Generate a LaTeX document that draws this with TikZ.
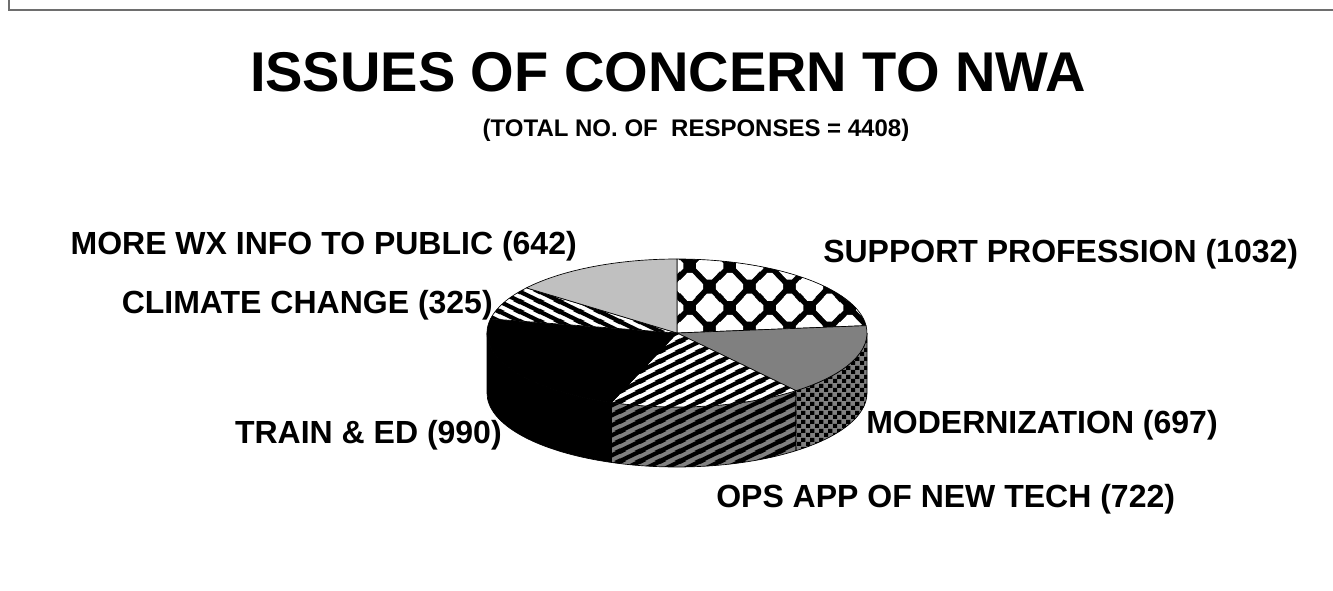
\documentclass[tikz,border=0pt]{standalone}
\usepackage{fontspec}
\setmainfont{Liberation Sans}
\usetikzlibrary{patterns}

\pgfdeclarepatternformonly{opsstripes}{\pgfqpoint{0pt}{0pt}}{\pgfqpoint{15pt}{7.5pt}}{\pgfqpoint{15pt}{7.5pt}}{%
  \pgfsetlinewidth{3.35pt}%
  \pgfpathmoveto{\pgfqpoint{-15pt}{-7.5pt}}\pgfpathlineto{\pgfqpoint{30pt}{15pt}}%
  \pgfpathmoveto{\pgfqpoint{-15pt}{0pt}}\pgfpathlineto{\pgfqpoint{15pt}{15pt}}%
  \pgfpathmoveto{\pgfqpoint{0pt}{-7.5pt}}\pgfpathlineto{\pgfqpoint{30pt}{7.5pt}}%
  \pgfusepath{stroke}}

\pgfdeclarepatternformonly{climstripes}{\pgfqpoint{0pt}{0pt}}{\pgfqpoint{15pt}{7.5pt}}{\pgfqpoint{15pt}{7.5pt}}{%
  \pgfsetlinewidth{3.35pt}%
  \pgfpathmoveto{\pgfqpoint{-15pt}{15pt}}\pgfpathlineto{\pgfqpoint{30pt}{-7.5pt}}%
  \pgfpathmoveto{\pgfqpoint{-15pt}{22.5pt}}\pgfpathlineto{\pgfqpoint{30pt}{0pt}}%
  \pgfpathmoveto{\pgfqpoint{-15pt}{7.5pt}}\pgfpathlineto{\pgfqpoint{30pt}{-15pt}}%
  \pgfusepath{stroke}}

\pgfdeclarepatternformonly{checkers}{\pgfqpoint{0pt}{0pt}}{\pgfqpoint{6.8pt}{6.8pt}}{\pgfqpoint{6.8pt}{6.8pt}}{%
  \pgfpathrectangle{\pgfqpoint{0pt}{0pt}}{\pgfqpoint{3.4pt}{3.4pt}}%
  \pgfpathrectangle{\pgfqpoint{3.4pt}{3.4pt}}{\pgfqpoint{3.4pt}{3.4pt}}%
  \pgfusepath{fill}}

% diamond-like hole (tips slightly cut) centred at (#1,#2)
\newcommand\octhole[2]{%
  \pgfpathmoveto{\pgfpointadd{\pgfpoint{#1}{#2}}{\pgfqpoint{10.125pt}{-1.934pt}}}%
  \pgfpathlineto{\pgfpointadd{\pgfpoint{#1}{#2}}{\pgfqpoint{10.125pt}{1.934pt}}}%
  \pgfpathlineto{\pgfpointadd{\pgfpoint{#1}{#2}}{\pgfqpoint{1.818pt}{10.5pt}}}%
  \pgfpathlineto{\pgfpointadd{\pgfpoint{#1}{#2}}{\pgfqpoint{-1.818pt}{10.5pt}}}%
  \pgfpathlineto{\pgfpointadd{\pgfpoint{#1}{#2}}{\pgfqpoint{-10.125pt}{1.934pt}}}%
  \pgfpathlineto{\pgfpointadd{\pgfpoint{#1}{#2}}{\pgfqpoint{-10.125pt}{-1.934pt}}}%
  \pgfpathlineto{\pgfpointadd{\pgfpoint{#1}{#2}}{\pgfqpoint{-1.818pt}{-10.5pt}}}%
  \pgfpathlineto{\pgfpointadd{\pgfpoint{#1}{#2}}{\pgfqpoint{1.818pt}{-10.5pt}}}%
  \pgfpathclose}

\pgfdeclarepatternformonly{diamondholes}{\pgfqpoint{0pt}{0pt}}{\pgfqpoint{30pt}{31.5pt}}{\pgfqpoint{30pt}{31.5pt}}{%
  \octhole{-22.5pt}{-23.625pt}\octhole{7.5pt}{-23.625pt}\octhole{37.5pt}{-23.625pt}%
  \octhole{-22.5pt}{7.875pt}\octhole{7.5pt}{7.875pt}\octhole{37.5pt}{7.875pt}%
  \octhole{-22.5pt}{39.375pt}\octhole{7.5pt}{39.375pt}\octhole{37.5pt}{39.375pt}%
  \octhole{-7.5pt}{-7.875pt}\octhole{22.5pt}{-7.875pt}\octhole{52.5pt}{-7.875pt}%
  \octhole{-7.5pt}{23.625pt}\octhole{22.5pt}{23.625pt}\octhole{52.5pt}{23.625pt}%
  \octhole{-7.5pt}{55.125pt}\octhole{22.5pt}{55.125pt}\octhole{52.5pt}{55.125pt}%
  \pgfusepath{fill}}

\definecolor{framegray}{RGB}{110,110,110}
\definecolor{midgray}{RGB}{128,128,128}
\definecolor{lightgray2}{RGB}{192,192,192}

\begin{document}
\begin{tikzpicture}[x=0.75pt,y=0.75pt,
  lbl/.style={font=\fontsize{24}{28}\selectfont\bfseries, inner sep=0pt},
  face/.style={draw=black, line width=0.5pt, line join=round},
  er/.style={x radius=190, y radius=74}]
\useasboundingbox (0,0) rectangle (1333,590);
\draw[framegray, line width=1.5pt] (8.5,590) -- (8.5,579.5) -- (1333,579.5);

\coordinate (c) at (677,257);

% side faces
\path[face, fill=black]
  ([shift={(180:190 and 74)}]c) arc[start angle=180, end angle=249.827, er]
  -- ++(0,-60) arc[start angle=249.827, end angle=180, er] -- cycle;
\path[face, preaction={fill=midgray}, pattern=opsstripes]
  ([shift={(-110.173:190 and 74)}]c) arc[start angle=-110.173, end angle=-51.207, er]
  -- ++(0,-60) arc[start angle=-51.207, end angle=-110.173, er] -- cycle;
\path[face, preaction={fill=midgray}, pattern=checkers]
  ([shift={(-51.207:190 and 74)}]c) arc[start angle=-51.207, end angle=0, er]
  -- ++(0,-60) arc[start angle=0, end angle=-51.207, er] -- cycle;

% top faces
\path[face, preaction={fill=black}, pattern=diamondholes, pattern color=white]
  (c) -- ([shift={(5.717:190 and 74)}]c) arc[start angle=5.717, end angle=90, er] -- cycle;
\path[face, fill=midgray]
  (c) -- ([shift={(-51.207:190 and 74)}]c) arc[start angle=-51.207, end angle=5.717, er] -- cycle;
\path[face, preaction={fill=white}, pattern=opsstripes]
  (c) -- ([shift={(-110.173:190 and 74)}]c) arc[start angle=-110.173, end angle=-51.207, er] -- cycle;
\path[face, fill=black]
  (c) -- ([shift={(-191.026:190 and 74)}]c) arc[start angle=-191.026, end angle=-110.173, er] -- cycle;
\path[face, preaction={fill=white}, pattern=climstripes]
  (c) -- ([shift={(-217.569:190 and 74)}]c) arc[start angle=-217.569, end angle=-191.026, er] -- cycle;
\path[face, fill=lightgray2]
  (c) -- ([shift={(-270:190 and 74)}]c) arc[start angle=-270, end angle=-217.569, er] -- cycle;

% titles
\node[anchor=base, inner sep=0pt, font=\fontsize{42}{48}\selectfont\bfseries] (title) at (668,498) {ISSUES OF CONCERN TO NWA};
\node[anchor=base, inner sep=0pt, font=\fontsize{18}{22}\selectfont\bfseries] (sub) at (696,453) {(TOTAL NO. OF\ \ RESPONSES = 4408)};

% labels
\node[lbl, anchor=base east] (wx) at (577,336) {MORE WX INFO TO PUBLIC (642)};
\node[lbl, anchor=base west] (sup) at (823,328) {SUPPORT PROFESSION (1032)};
\node[lbl, anchor=base east] (cli) at (493,277) {CLIMATE CHANGE (325)};
\node[lbl, anchor=base east] (tra) at (502,147) {TRAIN \& ED (990)};
\node[lbl, anchor=base west] (mod) at (866,157) {MODERNIZATION (697)};
\node[lbl, anchor=base west] (ops) at (716,83) {OPS APP OF NEW TECH (722)};
\end{tikzpicture}
\end{document}
